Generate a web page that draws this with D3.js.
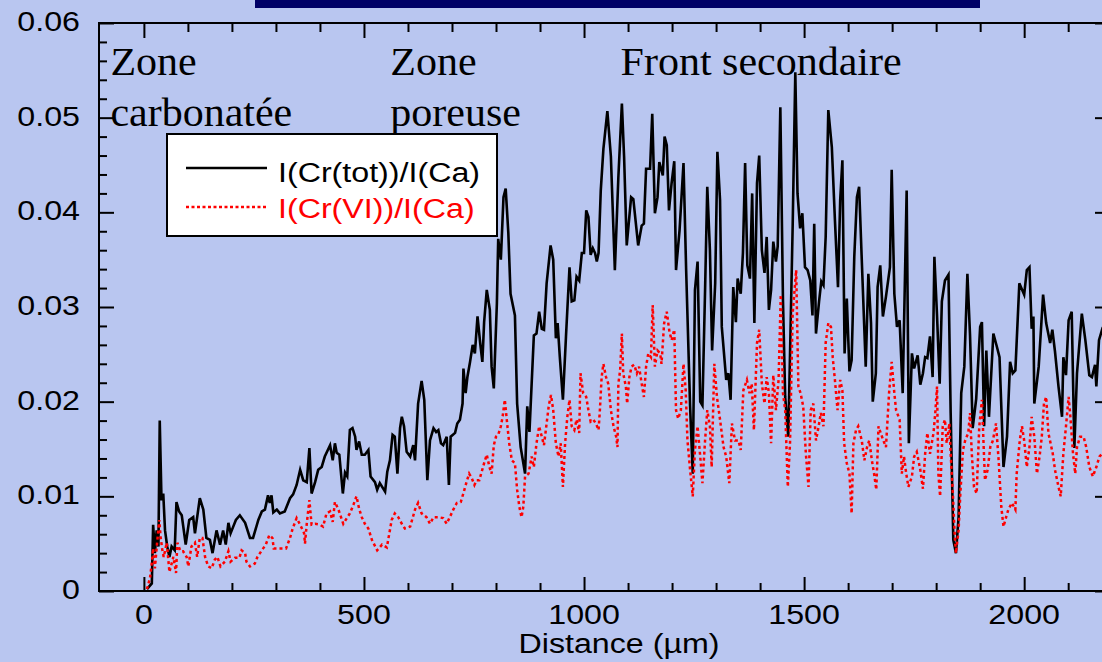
<!DOCTYPE html>
<html>
<head>
<meta charset="utf-8">
<script src="https://cdn.jsdelivr.net/npm/d3@7/dist/d3.min.js"></script>
<style>
  html, body { margin: 0; padding: 0; background: #b9c6f0; }
  svg { display: block; }
</style>
</head>
<body>
<svg id="chart" width="1102" height="662"></svg>
<script>
// Cr(tot)/Ca intensity ratio along the profile: [distance (µm), ratio]
const crTotal = [[7,.0002],[18,.0008],[21,.0070],[25,.0040],[29,.0064],[33,.0047],[36,.0180],[40,.0096],[44,.0103],[48,.0064],[53,.0047],[58,.0036],[63,.0047],[70,.0043],[74,.0094],[80,.0084],[86,.0080],[95,.0049],[103,.0075],[112,.0078],[116,.0061],[127,.0098],[135,.0086],[142,.0056],[150,.0054],[156,.0040],[165,.0064],[173,.0049],[180,.0064],[186,.0049],[192,.0072],[197,.0061],[203,.0068],[209,.0075],[218,.0080],[230,.0072],[241,.0056],[248,.0056],[260,.0075],[268,.0084],[275,.0086],[282,.0101],[286,.0093],[290,.0101],[294,.0083],[302,.0086],[309,.0082],[320,.0084],[332,.0098],[339,.0102],[347,.0112],[355,.0128],[362,.0117],[370,.0115],[376,.0151],[381,.0103],[389,.0115],[396,.0128],[404,.0131],[411,.0142],[423,.0154],[429,.0138],[434,.0156],[438,.0146],[444,.0144],[452,.0103],[457,.0125],[462,.0121],[468,.0170],[474,.0172],[480,.0163],[483,.0149],[489,.0158],[495,.0144],[502,.0144],[510,.0149],[515,.0121],[525,.0115],[530,.0107],[536,.0114],[548,.0105],[553,.0126],[559,.0138],[565,.0165],[570,.0163],[576,.0124],[582,.0172],[586,.0184],[591,.0174],[597,.0147],[605,.0142],[612,.0154],[616,.0138],[623,.0198],[631,.0222],[637,.0202],[644,.0117],[650,.0159],[658,.0172],[664,.0168],[669,.0170],[675,.0156],[680,.0154],[688,.0163],[693,.0112],[697,.0163],[707,.0167],[712,.0177],[718,.0181],[724,.0198],[726,.0235],[731,.0209],[735,.0226],[741,.0242],[747,.0260],[752,.0251],[758,.0290],[764,.0262],[769,.0242],[773,.0284],[779,.0318],[786,.0297],[790,.0237],[795,.0214],[802,.0304],[805,.0372],[811,.0350],[817,.0416],[822,.0425],[828,.0378],[833,.0314],[843,.0291],[848,.0198],[856,.0152],[866,.0124],[871,.0195],[876,.0168],[881,.0219],[886,.0270],[892,.0272],[898,.0295],[904,.0277],[909,.0276],[915,.0325],[924,.0365],[930,.0350],[936,.0267],[940,.0283],[945,.0247],[952,.0202],[959,.0269],[967,.0342],[972,.0306],[978,.0307],[983,.0332],[989,.0328],[995,.0357],[1000,.0357],[1005,.0402],[1010,.0395],[1015,.0355],[1020,.0362],[1025,.0357],[1029,.0348],[1033,.0357],[1038,.0423],[1044,.0467],[1053,.0507],[1061,.0459],[1070,.0339],[1078,.0437],[1086,.0515],[1091,.0459],[1097,.0365],[1107,.0416],[1112,.0414],[1123,.0365],[1131,.0386],[1136,.0388],[1141,.0446],[1150,.0446],[1155,.0504],[1161,.0399],[1167,.0416],[1171,.0453],[1179,.0439],[1183,.0480],[1188,.0471],[1193,.0402],[1199,.0431],[1205,.0454],[1209,.0339],[1217,.0381],[1226,.0452],[1232,.0339],[1241,.0195],[1247,.0124],[1252,.0318],[1258,.0348],[1264,.0200],[1269,.0196],[1275,.0318],[1280,.0427],[1286,.0360],[1291,.0254],[1298,.0325],[1303,.0464],[1309,.0413],[1313,.0279],[1323,.0223],[1328,.0230],[1333,.0202],[1339,.0321],[1345,.0284],[1349,.0330],[1356,.0314],[1361,.0357],[1366,.0452],[1371,.0344],[1377,.0330],[1382,.0420],[1387,.0283],[1393,.0431],[1398,.0460],[1404,.0360],[1410,.0336],[1415,.0374],[1420,.0297],[1425,.0318],[1430,.0369],[1436,.0348],[1440,.0364],[1446,.0511],[1452,.0307],[1457,.0205],[1464,.0163],[1469,.0272],[1474,.0385],[1480,.0548],[1485,.0420],[1491,.0383],[1496,.0399],[1502,.0342],[1508,.0339],[1514,.0328],[1519,.0291],[1523,.0388],[1527,.0272],[1534,.0306],[1539,.0327],[1544,.0323],[1549,.0374],[1555,.0508],[1563,.0469],[1570,.0392],[1577,.0321],[1582,.0413],[1587,.0455],[1592,.0251],[1597,.0309],[1603,.0232],[1608,.0244],[1614,.0353],[1620,.0416],[1625,.0427],[1631,.0350],[1640,.0237],[1646,.0335],[1652,.0283],[1656,.0200],[1663,.0230],[1667,.0321],[1673,.0344],[1679,.0290],[1686,.0311],[1695,.0342],[1699,.0445],[1705,.0314],[1711,.0279],[1717,.0286],[1724,.0209],[1733,.0423],[1738,.0156],[1745,.0251],[1750,.0235],[1758,.0249],[1764,.0218],[1770,.0230],[1775,.0247],[1780,.0246],[1786,.0269],[1792,.0226],[1796,.0353],[1802,.0291],[1808,.0219],[1813,.0306],[1820,.0328],[1828,.0334],[1833,.0188],[1839,.0054],[1845,.0040],[1851,.0078],[1857,.0209],[1864,.0237],[1871,.0335],[1877,.0270],[1883,.0172],[1891,.0203],[1900,.0279],[1904,.0284],[1909,.0174],[1914,.0254],[1920,.0184],[1930,.0272],[1938,.0258],[1944,.0247],[1953,.0131],[1961,.0163],[1968,.0242],[1974,.0230],[1980,.0233],[1989,.0325],[2000,.0313],[2006,.0339],[2012,.0342],[2017,.0277],[2021,.0290],[2023,.0198],[2033,.0237],[2043,.0313],[2050,.0283],[2059,.0262],[2064,.0276],[2070,.0253],[2078,.0216],[2086,.0184],[2089,.0247],[2095,.0228],[2101,.0286],[2108,.0295],[2114,.0151],[2120,.0230],[2131,.0293],[2139,.0265],[2148,.0228],[2154,.0226],[2161,.0239],[2164,.0216],[2170,.0265],[2177,.0276],[2185,.0270]];

// Cr(VI)/Ca intensity ratio along the profile: [distance (µm), ratio]
const crSix = [[7,.0002],[14,.0014],[18,.0030],[21,.0045],[25,.0024],[30,.0051],[35,.0075],[38,.0057],[42,.0043],[45,.0036],[52,.0051],[58,.0020],[67,.0036],[73,.0019],[76,.0051],[83,.0042],[89,.0042],[97,.0036],[101,.0026],[108,.0047],[116,.0051],[121,.0036],[127,.0056],[133,.0056],[139,.0036],[146,.0026],[154,.0024],[161,.0033],[167,.0036],[174,.0026],[184,.0031],[192,.0042],[197,.0031],[207,.0035],[217,.0035],[222,.0043],[230,.0040],[233,.0031],[241,.0026],[252,.0029],[258,.0036],[268,.0043],[277,.0049],[285,.0059],[292,.0056],[295,.0045],[308,.0045],[323,.0045],[332,.0056],[338,.0066],[347,.0077],[355,.0070],[364,.0061],[366,.0050],[370,.0071],[376,.0096],[381,.0070],[389,.0071],[400,.0070],[407,.0068],[415,.0082],[423,.0084],[429,.0073],[434,.0094],[442,.0086],[453,.0071],[461,.0077],[468,.0082],[476,.0091],[483,.0100],[489,.0087],[495,.0078],[502,.0071],[510,.0066],[518,.0054],[530,.0043],[541,.0049],[552,.0046],[563,.0075],[570,.0082],[578,.0078],[586,.0071],[593,.0066],[605,.0068],[616,.0086],[623,.0093],[631,.0082],[642,.0078],[650,.0071],[658,.0078],[669,.0078],[680,.0077],[688,.0071],[695,.0078],[703,.0086],[711,.0093],[720,.0094],[727,.0105],[733,.0115],[739,.0124],[745,.0119],[751,.0112],[756,.0117],[762,.0117],[773,.0135],[779,.0144],[785,.0131],[790,.0124],[795,.0154],[800,.0163],[805,.0165],[811,.0174],[815,.0184],[820,.0202],[826,.0174],[830,.0156],[836,.0138],[843,.0135],[848,.0107],[853,.0089],[858,.0078],[862,.0089],[866,.0121],[874,.0124],[881,.0142],[886,.0131],[892,.0156],[898,.0174],[904,.0163],[909,.0154],[915,.0177],[920,.0196],[925,.0207],[930,.0191],[936,.0156],[942,.0142],[947,.0156],[952,.0110],[957,.0156],[962,.0184],[967,.0202],[972,.0174],[978,.0170],[983,.0181],[989,.0167],[992,.0230],[998,.0209],[1005,.0205],[1010,.0191],[1015,.0179],[1021,.0181],[1027,.0177],[1033,.0170],[1036,.0191],[1040,.0226],[1044,.0240],[1050,.0226],[1055,.0219],[1061,.0191],[1067,.0174],[1073,.0163],[1076,.0152],[1078,.0219],[1082,.0233],[1086,.0272],[1089,.0230],[1095,.0216],[1098,.0198],[1103,.0226],[1108,.0237],[1114,.0239],[1120,.0230],[1125,.0237],[1131,.0219],[1136,.0205],[1141,.0237],[1146,.0251],[1152,.0247],[1156,.0302],[1161,.0237],[1167,.0254],[1173,.0251],[1176,.0240],[1182,.0283],[1188,.0295],[1194,.0274],[1199,.0265],[1205,.0276],[1209,.0191],[1214,.0182],[1220,.0191],[1226,.0240],[1231,.0212],[1235,.0159],[1241,.0128],[1247,.0100],[1252,.0149],[1258,.0174],[1264,.0142],[1269,.0114],[1275,.0159],[1280,.0191],[1286,.0174],[1290,.0131],[1296,.0240],[1302,.0205],[1309,.0181],[1317,.0152],[1323,.0142],[1330,.0114],[1336,.0177],[1343,.0159],[1351,.0159],[1356,.0149],[1362,.0212],[1370,.0223],[1376,.0209],[1381,.0219],[1386,.0170],[1393,.0262],[1398,.0276],[1404,.0219],[1410,.0198],[1415,.0226],[1420,.0209],[1425,.0156],[1430,.0228],[1436,.0191],[1442,.0223],[1447,.0313],[1452,.0209],[1457,.0191],[1463,.0110],[1468,.0156],[1474,.0293],[1482,.0339],[1487,.0216],[1492,.0209],[1498,.0195],[1504,.0145],[1510,.0110],[1515,.0191],[1521,.0198],[1527,.0159],[1533,.0174],[1538,.0188],[1544,.0174],[1549,.0262],[1555,.0283],[1561,.0279],[1565,.0247],[1570,.0223],[1576,.0191],[1582,.0223],[1587,.0212],[1591,.0156],[1597,.0135],[1603,.0124],[1608,.0082],[1612,.0156],[1618,.0170],[1623,.0174],[1631,.0159],[1637,.0138],[1643,.0152],[1648,.0159],[1654,.0138],[1659,.0124],[1664,.0107],[1669,.0174],[1674,.0167],[1680,.0159],[1686,.0152],[1693,.0209],[1699,.0242],[1705,.0209],[1709,.0191],[1717,.0181],[1722,.0124],[1727,.0142],[1732,.0124],[1737,.0110],[1745,.0121],[1750,.0142],[1756,.0147],[1764,.0128],[1770,.0108],[1775,.0145],[1780,.0167],[1786,.0145],[1794,.0167],[1798,.0188],[1802,.0216],[1805,.0124],[1809,.0100],[1815,.0174],[1820,.0181],[1824,.0156],[1830,.0177],[1833,.0145],[1838,.0103],[1842,.0061],[1845,.0040],[1851,.0064],[1855,.0103],[1861,.0149],[1866,.0159],[1873,.0167],[1877,.0188],[1881,.0145],[1886,.0110],[1892,.0103],[1898,.0174],[1904,.0202],[1908,.0152],[1911,.0117],[1917,.0128],[1923,.0152],[1929,.0159],[1936,.0177],[1942,.0138],[1948,.0089],[1953,.0068],[1959,.0078],[1964,.0086],[1972,.0093],[1980,.0086],[1983,.0124],[1990,.0159],[1995,.0174],[2000,.0159],[2006,.0131],[2012,.0152],[2017,.0184],[2023,.0163],[2029,.0124],[2035,.0142],[2040,.0163],[2045,.0198],[2050,.0205],[2055,.0167],[2065,.0145],[2070,.0128],[2078,.0110],[2083,.0100],[2089,.0145],[2095,.0174],[2101,.0205],[2105,.0184],[2111,.0145],[2116,.0124],[2120,.0152],[2127,.0163],[2135,.0163],[2141,.0152],[2148,.0131],[2156,.0121],[2164,.0131],[2171,.0142],[2177,.0145],[2185,.0140]];

const xMajorTicks = [0, 500, 1000, 1500, 2000];
const xMinorTicks = [100, 200, 300, 400, 600, 700, 800, 900, 1100, 1200, 1300, 1400, 1600, 1700, 1800, 1900, 2100];
const yMajorTicks = [0, 0.01, 0.02, 0.03, 0.04, 0.05, 0.06];
const yMinorTicks = [0.002, 0.004, 0.006, 0.008, 0.012, 0.014, 0.016, 0.018, 0.022, 0.024, 0.026, 0.028,
                     0.032, 0.034, 0.036, 0.038, 0.042, 0.044, 0.046, 0.048, 0.052, 0.054, 0.056, 0.058];
const xTickLabels = ["0", "500", "1000", "1500", "2000"];
const yTickLabels = ["0", "0.01", "0.02", "0.03", "0.04", "0.05", "0.06"];
const seriesNames = ["I(Cr(tot))/I(Ca)", "I(Cr(VI))/I(Ca)"];
const zoneLabels = [
  { lines: ["Zone", "carbonatée"], at: -76 },
  { lines: ["Zone", "poreuse"], at: 560 },
  { lines: ["Front secondaire"], at: 1083 }
];
const xTitle = "Distance (µm)";

const svg = d3.select("#chart");
const W = 1102, H = 662;
const plot = { left: 99, right: 1110, top: 23, bottom: 591 };

const x = d3.scaleLinear().domain([-102, 2195]).range([plot.left, plot.right]);
const y = d3.scaleLinear().domain([0, 0.06]).range([plot.bottom, plot.top]);

const SANS = "'Liberation Sans', Arial, sans-serif";
const SERIF = "'Liberation Serif', 'Times New Roman', serif";

// background
svg.append("rect").attr("width", W).attr("height", H).attr("fill", "#b9c6f0");
// title banner strip
svg.append("rect").attr("x", 255).attr("y", 0).attr("width", 725).attr("height", 8).attr("fill", "#000066");

// text helper: horizontally widened lettering
function label(g, tx, ty, str, opts) {
  return g.append("text")
    .attr("transform", `translate(${tx},${ty}) scale(${opts.sx || 1},1)`)
    .attr("font-family", opts.family || SANS)
    .attr("font-size", opts.size || 28)
    .attr("fill", opts.fill || "#000")
    .attr("text-anchor", opts.anchor || "start")
    .text(str);
}

// series
const defs = svg.append("defs");
defs.append("clipPath").attr("id", "plotClip").append("rect")
  .attr("x", plot.left).attr("y", plot.top)
  .attr("width", plot.right - plot.left).attr("height", plot.bottom - plot.top);

const line = d3.line().x(d => x(d[0])).y(d => y(d[1]));
const lines = svg.append("g").attr("clip-path", "url(#plotClip)");
lines.append("path").datum(crTotal).attr("d", line)
  .attr("fill", "none").attr("stroke", "#000").attr("stroke-width", 2.6);
lines.append("path").datum(crSix).attr("d", line)
  .attr("fill", "none").attr("stroke", "#ff0000").attr("stroke-width", 2.5)
  .attr("stroke-dasharray", "3,3");

// axes (ticks point inward on all four sides)
function drawAxis(gen, tr, ticks, size) {
  const g = svg.append("g").attr("transform", tr)
    .call(gen.tickValues(ticks).tickSize(size).tickFormat(""));
  g.selectAll("path").remove();
  g.selectAll("line").attr("stroke", "#000").attr("stroke-width", 2);
}
drawAxis(d3.axisBottom(x), `translate(0,${plot.bottom})`, xMajorTicks, -14);
drawAxis(d3.axisBottom(x), `translate(0,${plot.bottom})`, xMinorTicks, -8);
drawAxis(d3.axisTop(x), `translate(0,${plot.top})`, xMajorTicks, -15);
drawAxis(d3.axisTop(x), `translate(0,${plot.top})`, xMinorTicks, -9);
drawAxis(d3.axisLeft(y), `translate(${plot.left},0)`, yMajorTicks, -15);
drawAxis(d3.axisLeft(y), `translate(${plot.left},0)`, yMinorTicks, -8);
drawAxis(d3.axisRight(y), `translate(${plot.right},0)`, yMajorTicks, -15);
drawAxis(d3.axisRight(y), `translate(${plot.right},0)`, yMinorTicks, -8);

svg.append("rect")
  .attr("x", plot.left).attr("y", plot.top)
  .attr("width", plot.right - plot.left).attr("height", plot.bottom - plot.top)
  .attr("fill", "none").attr("stroke", "#000").attr("stroke-width", 2);

// tick labels and axis title
const lab = svg.append("g");
xMajorTicks.forEach((v, i) => label(lab, x(v), 624, xTickLabels[i], { anchor: "middle", sx: 1.15 }));
yMajorTicks.forEach((v, i) => label(lab, 80, y(v) + 8, yTickLabels[i], { anchor: "end", sx: 1.15 }));
label(lab, 619, 653, xTitle, { anchor: "middle", sx: 1.15 });

// zone annotations
zoneLabels.forEach(z => {
  z.lines.forEach((s, k) => label(lab, x(z.at), 75 + k * 51, s, { family: SERIF, size: 40, sx: 1.05 }));
});

// legend
const leg = svg.append("g");
leg.append("rect").attr("x", 167).attr("y", 134).attr("width", 330).attr("height", 102)
  .attr("fill", "#fff").attr("stroke", "#000").attr("stroke-width", 2);
leg.append("line").attr("x1", 186).attr("x2", 267).attr("y1", 168).attr("y2", 168)
  .attr("stroke", "#000").attr("stroke-width", 2.4);
leg.append("line").attr("x1", 186).attr("x2", 267).attr("y1", 207).attr("y2", 207)
  .attr("stroke", "#ff0000").attr("stroke-width", 2.4).attr("stroke-dasharray", "3,2.5");
label(leg, 278, 182, seriesNames[0], { sx: 1.15 });
label(leg, 278, 218, seriesNames[1], { sx: 1.15, fill: "#ff0000" });
</script>
</body>
</html>
